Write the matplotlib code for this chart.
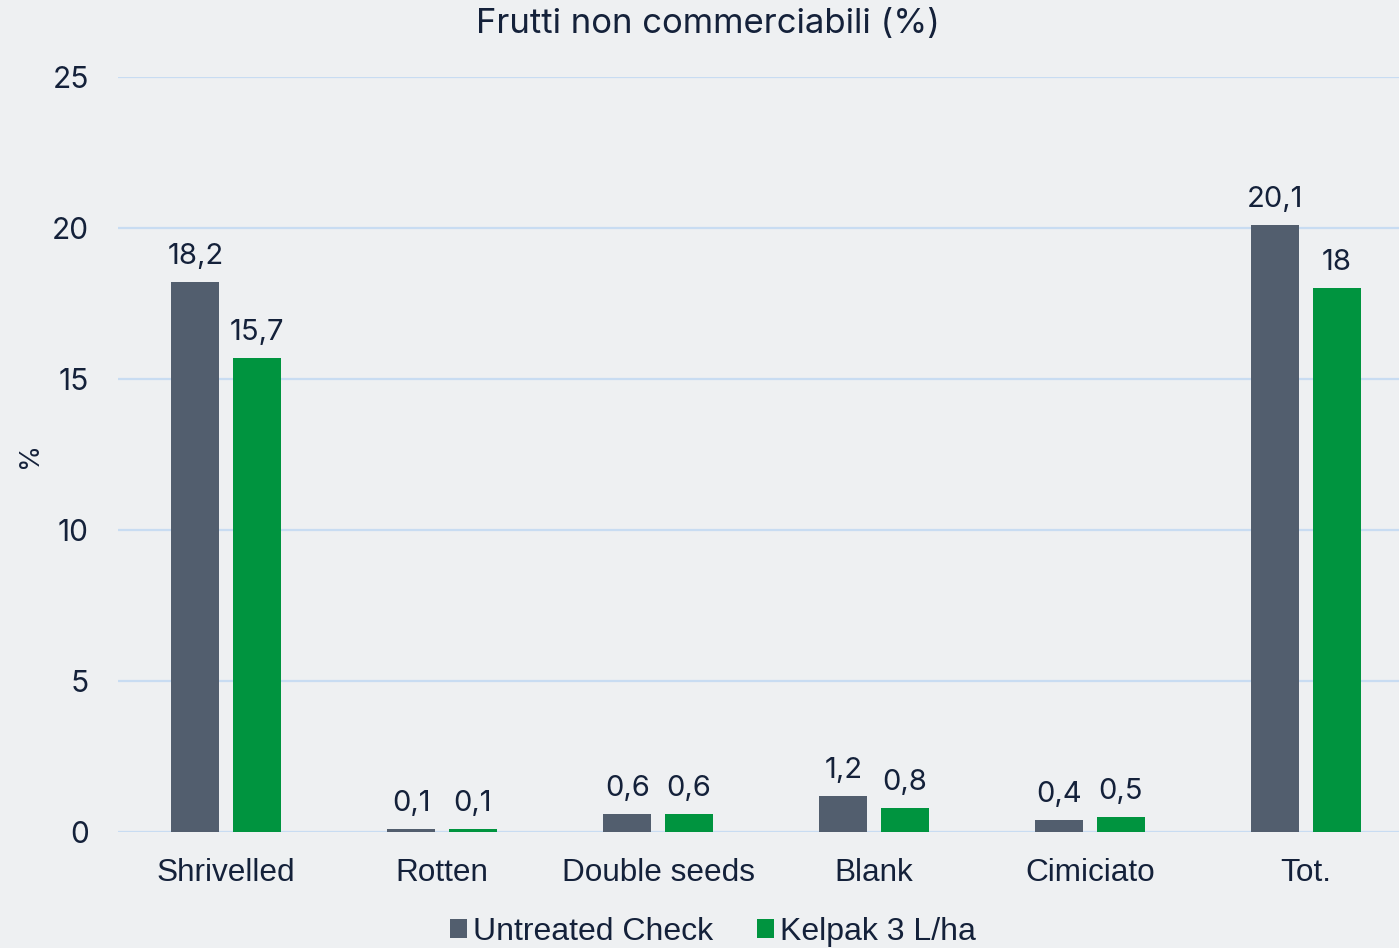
import matplotlib.pyplot as plt
import numpy as np

# data
categories = ['Shrivelled', 'Rotten', 'Double seeds', 'Blank', 'Cimiciato', 'Tot.']
untreated = [18.2, 0.1, 0.6, 1.2, 0.4, 20.1]
kelpak = [15.7, 0.1, 0.6, 0.8, 0.5, 18.0]
series_names = ['Untreated Check', 'Kelpak 3 L/ha']
yticks = [0, 5, 10, 15, 20, 25]

bg = '#eef0f2'
gray = '#525e6e'
green = '#00943f'
txt = '#14213a'
num_font = 'Inter'
lab_font = 'Liberation Sans'

fig = plt.figure(figsize=(13.99, 9.48), dpi=100, facecolor=bg)
# axes run slightly past the right edge, like the original
ax = fig.add_axes([118/1399, (948-832)/948, 1296/1399, (832-77)/948])
ax.set_facecolor(bg)

x = np.arange(len(categories))
w = 0.222
off = 0.142
b1 = ax.bar(x - off, untreated, w, color=gray, label=series_names[0], zorder=3)
b2 = ax.bar(x + off, kelpak, w, color=green, label=series_names[1], zorder=3)

def fmt(v):
    s = ('%.1f' % v).rstrip('0').rstrip('.')
    return s.replace('.', ',')

for bars, vals in [(b1, untreated), (b2, kelpak)]:
    for b, v in zip(bars, vals):
        ax.text(b.get_x() + b.get_width()/2, v + 0.4, fmt(v), ha='center', va='bottom',
                fontsize=21, family=num_font, color=txt)

ax.set_xlim(-0.5, len(categories) - 0.5)
ax.set_ylim(0, 25)
ax.set_yticks(yticks)
ax.set_yticklabels([str(t) for t in yticks], family=num_font, fontsize=21.5, color=txt)
ax.set_xticks(x)
ax.set_xticklabels(categories, family=lab_font, fontsize=22.7, color=txt)
ax.tick_params(axis='both', length=0)
ax.tick_params(axis='y', pad=21)
ax.tick_params(axis='x', pad=19)
ax.yaxis.grid(True, color='#c8dcf2', linewidth=1.6, zorder=0)
for s in ax.spines.values():
    s.set_visible(False)

ax.text(30/1399, 1 - 455/948, '%', transform=fig.transFigure, rotation=90,
        ha='center', va='center', family=num_font, fontsize=19, color=txt)
fig.text(708/1399, 1 - 24/948, 'Frutti non commerciabili (%)', ha='center', va='center',
         family=num_font, fontsize=25, color=txt)

leg = fig.legend(loc='center', bbox_to_anchor=(713/1399, 1 - 932/948), ncol=2, frameon=False,
                 prop={'family': lab_font, 'size': 23}, handlelength=0.53, handleheight=0.53,
                 handletextpad=0.2, columnspacing=1.38, borderpad=0)
for t in leg.get_texts():
    t.set_color(txt)

fig.savefig('out.png', dpi=100, facecolor=bg)
